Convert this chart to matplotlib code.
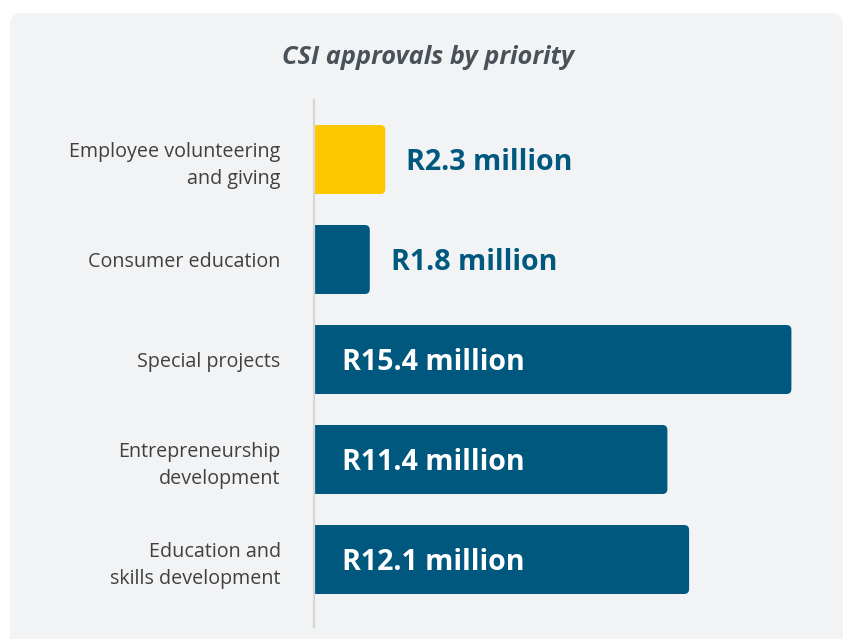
import matplotlib
matplotlib.use("Agg")
import matplotlib.pyplot as plt
from matplotlib.patches import FancyBboxPatch

# Data
categories = [
    "Employee volunteering\nand giving",
    "Consumer education",
    "Special projects",
    "Entrepreneurship\ndevelopment",
    "Education and\nskills development",
]
values = [2.3, 1.8, 15.4, 11.4, 12.1]
value_labels = ["R2.3 million", "R1.8 million", "R15.4 million",
                "R11.4 million", "R12.1 million"]
bar_colors = ["#fdc800", "#00587f", "#00587f", "#00587f", "#00587f"]
title = "CSI approvals by priority"

W, H, DPI = 845, 639, 100
fig = plt.figure(figsize=(W / DPI, H / DPI), dpi=DPI)
fig.patch.set_facecolor("white")

# Rounded light panel behind everything
panel = FancyBboxPatch((10, -20), 833, H - 13 + 20,
                       boxstyle="round,pad=0,rounding_size=12",
                       transform=None, facecolor="#f2f3f5",
                       edgecolor="none", zorder=-5)
fig.patches.append(panel)

# Axes placed in pixel terms: left 314, right 814, top 100, bottom 627
ax_l, ax_r, ax_t, ax_b = 314, 814, 100, 627
ax = fig.add_axes([ax_l / W, 1 - ax_b / H, (ax_r - ax_l) / W, (ax_b - ax_t) / H])
ax.set_facecolor("none")
ax.set_zorder(1)

px_per_unit_x = 31.0
px_per_unit_y = 100.0
ax.set_xlim(0, (ax_r - ax_l) / px_per_unit_x)
ax.set_ylim((ax_b - 159.5) / px_per_unit_y, -(159.5 - ax_t) / px_per_unit_y)

ypos = list(range(len(categories)))
bars = ax.barh(ypos, values, height=0.69, color=bar_colors)

# Replace the plain bars with bars rounded on the right end
radius = 5 / px_per_unit_x
for b, c in zip(bars, bar_colors):
    x, y, w, h = b.get_x(), b.get_y(), b.get_width(), b.get_height()
    b.set_visible(False)
    extra = 1.0
    rb = FancyBboxPatch((x - extra, y), w + extra, h,
                        boxstyle=f"round,pad=0,rounding_size={radius}",
                        mutation_aspect=px_per_unit_x / px_per_unit_y,
                        facecolor=c, edgecolor="none", zorder=2)
    ax.add_patch(rb)

# Value labels: inside large bars, outside small ones
dy = 0.035
for yi, v, lab in zip(ypos, values, value_labels):
    if v > 5:
        ax.text(28 / px_per_unit_x, yi + dy, lab, ha="left", va="center",
                color="white", fontsize=20.6, fontweight="bold",
                family="Open Sans", zorder=3)
    else:
        ax.text(v + 21 / px_per_unit_x, yi + dy, lab, ha="left", va="center",
                color="#00587f", fontsize=20.6, fontweight="bold",
                family="Open Sans", zorder=3)

# Axis styling
for s in ["top", "right", "bottom"]:
    ax.spines[s].set_visible(False)
ax.spines["left"].set_color("#d6d6d3")
ax.spines["left"].set_linewidth(1.6)
ax.set_xticks([])
ax.set_yticks(ypos)
ax.set_yticklabels(categories, fontsize=14.2, color="#404040",
                   family="Open Sans", linespacing=1.45, ha="right")
ax.tick_params(axis="y", length=0, pad=24)

fig.text(428 / W, 1 - 58 / H, title, ha="center", va="center",
         fontsize=18.3, fontstyle="italic", fontweight="bold",
         color="#4a5259", family="Open Sans")

fig.savefig("out.png", dpi=DPI)
